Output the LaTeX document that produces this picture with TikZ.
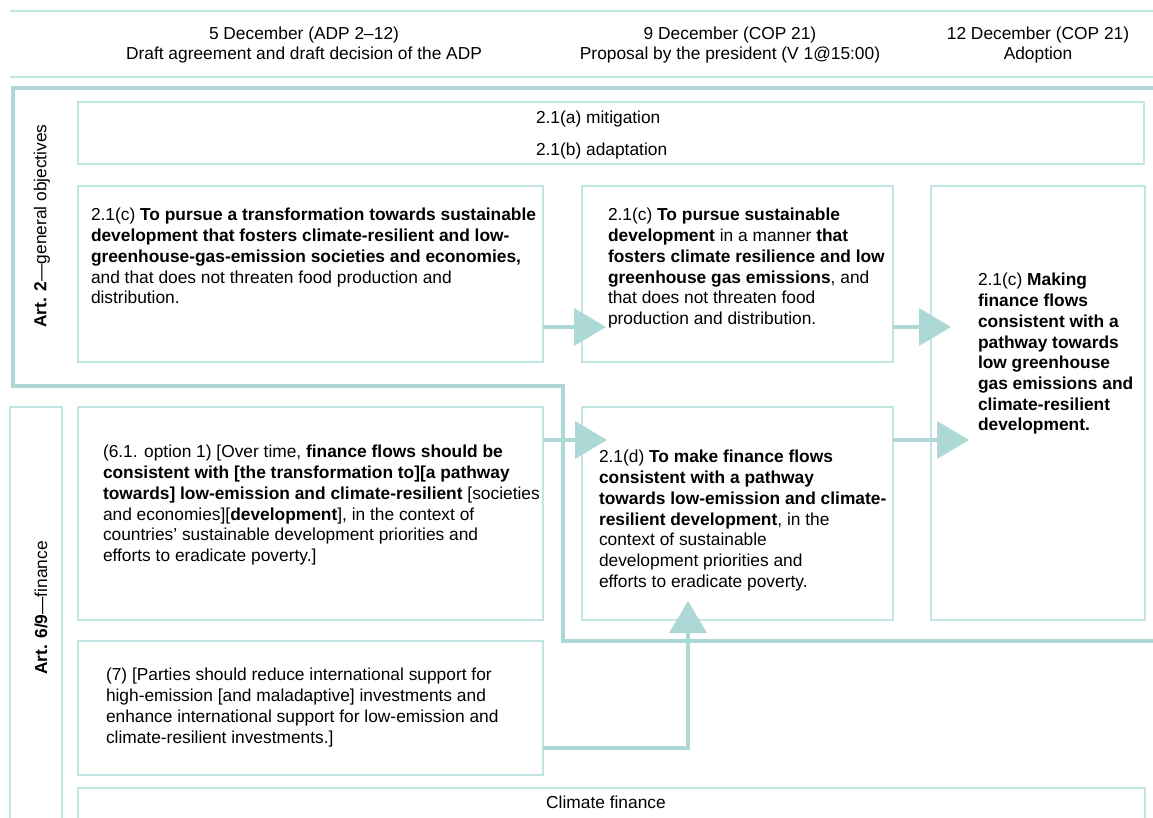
\documentclass[tikz,border=0pt]{standalone}
\usepackage{fontspec}
\setmainfont{Liberation Sans}
\usetikzlibrary{arrows.meta,calc}
\definecolor{tealthick}{RGB}{172,217,213}
\definecolor{tealthin}{RGB}{192,229,226}
\begin{document}
\begin{tikzpicture}[x=1pt,y=-1pt,
  box/.style={draw=tealthin, line width=1.8pt, inner sep=0pt, outer sep=0pt, rectangle},
  txt/.style={anchor=north west, inner sep=0pt, outer sep=0pt, align=left, font=\fontsize{17.35}{20.7}\selectfont},
  hdr/.style={inner sep=0pt, outer sep=0pt, align=center, font=\fontsize{17.35}{20.7}\selectfont},
  arr/.style={draw=tealthick, line width=4pt, -{Triangle[length=32pt,width=37pt]}},
  outl/.style={draw=tealthick, line width=4pt},
  rule/.style={draw=tealthin, line width=2pt},
]
\clip (0,0) rectangle (1153,818);
\fill[white] (0,0) rectangle (1153,818);

% header rules
\draw[rule] (10,11) -- (1160,11);
\draw[rule] (10,77) -- (1160,77);

% headers
\node[hdr, anchor=north] (h1) at (304,24.8) {\strut 5 December (ADP 2–12)\\Draft agreement and draft decision of the ADP};
\node[hdr, anchor=north] (h2) at (730,24.8) {\strut 9 December (COP 21)\\Proposal by the president (V 1@15:00)};
\node[hdr, anchor=north] (h3) at (1038,24.8) {\strut 12 December (COP 21)\\Adoption};

% boxes
\node[box, minimum width=1066pt, minimum height=62pt] (mit) at (611,133) {};
\node[box, minimum width=465pt, minimum height=176pt] (b1) at (310.5,274) {};
\node[box, minimum width=311pt, minimum height=176pt] (b2) at (737.5,274) {};
\node[box, minimum width=214pt, minimum height=434pt] (b3) at (1038,403) {};
\node[box, minimum width=52pt, minimum height=423pt] (art6) at (36,618.5) {};
\node[box, minimum width=465pt, minimum height=213pt] (b4) at (310.5,513.5) {};
\node[box, minimum width=311pt, minimum height=213pt] (b5) at (737.5,513.5) {};
\node[box, minimum width=465pt, minimum height=134pt] (b6) at (310.5,708) {};
\node[box, minimum width=1067pt, minimum height=52pt] (cf) at (611.5,814) {};

% Art. 2 outline
\draw[outl] (1160,88) -- (13,88) -- (13,386) -- (563,386) -- (563,641) -- (1160,641);

% labels
\node[hdr, rotate=90] (lab2) at (42,226) {\textbf{Art. 2}—general objectives};
\node[hdr, rotate=90] (lab6) at (41,608) {\textbf{Art. 6/9}—finance};

% texts
\node[txt] (tmit) at (536,109.5) {\strut 2.1(a) mitigation\\[11.3pt]2.1(b) adaptation};

\node[txt] (t1) at (91,206.5) {\strut 2.1(c) \textbf{To pursue a transformation towards sustainable}\\
\textbf{development that fosters climate-resilient and low-}\\
\textbf{greenhouse-gas-emission societies and economies,}\\
and that does not threaten food production and\\
distribution.};

\node[txt] (t2) at (608,206.5) {\strut 2.1(c) \textbf{To pursue sustainable}\\
\textbf{development} in a manner \textbf{that}\\
\textbf{fosters climate resilience and low}\\
\textbf{greenhouse gas emissions}, and\\
that does not threaten food\\
production and distribution.};

\node[txt] (t3) at (978,271.5) {\strut 2.1(c) \textbf{Making}\\
\textbf{finance flows}\\
\textbf{consistent with a}\\
\textbf{pathway towards}\\
\textbf{low greenhouse}\\
\textbf{gas emissions and}\\
\textbf{climate-resilient}\\
\textbf{development.}};

\node[txt] (t4) at (103,443.5) {\strut (6.1. option 1) [Over time, \textbf{finance flows should be}\\
\textbf{consistent with [the transformation to][a pathway}\\
\textbf{towards] low-emission and climate-resilient} [societies\\
and economies][\textbf{development}], in the context of\\
countries’ sustainable development priorities and\\
efforts to eradicate poverty.]};

\node[txt] (t5) at (599,448.5) {\strut 2.1(d) \textbf{To make finance flows}\\
\textbf{consistent with a pathway}\\
\textbf{towards low-emission and climate-}\\
\textbf{resilient development}, in the\\
context of sustainable\\
development priorities and\\
efforts to eradicate poverty.};

\node[txt] (t6) at (106,666.5) {\strut (7) [Parties should reduce international support for\\
high-emission [and maladaptive] investments and\\
enhance international support for low-emission and\\
climate-resilient investments.]};

\node[hdr, anchor=north] (tcf) at (606,794.5) {\strut Climate finance};

% arrows
\coordinate (r1) at (0,327);
\coordinate (r2) at (0,440);
\coordinate (r3) at (0,748);
\coordinate (c5) at (688,0);
\draw[arr] (b1.east |- r1) -- ($(b2.west |- r1)+(24,0)$);
\draw[arr] (b2.east |- r1) -- ($(b3.west |- r1)+(20,0)$);
\draw[arr] (b4.east |- r2) -- ($(b5.west |- r2)+(25,0)$);
\draw[arr] (b5.east |- r2) -- ($(b3.west |- r2)+(38,0)$);
\draw[arr] (b6.east |- r3) -| ($(b5.south -| c5)+(0,-19)$);
\end{tikzpicture}
\end{document}
